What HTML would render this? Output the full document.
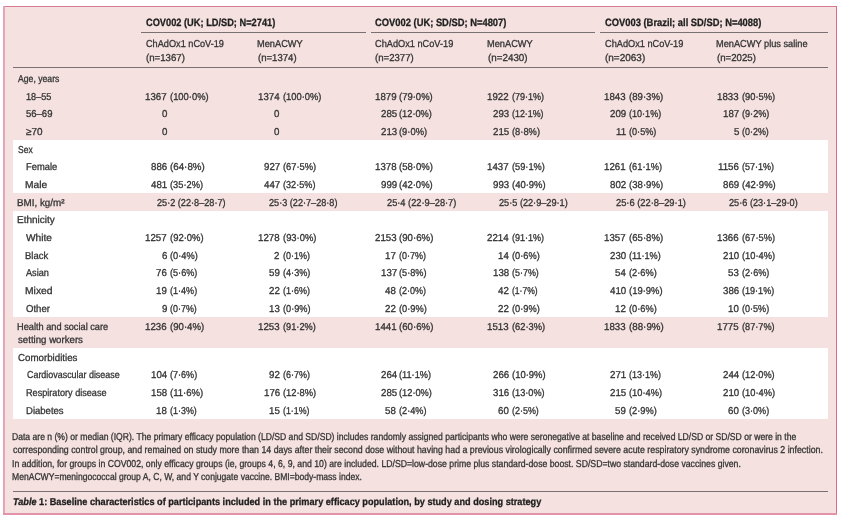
<!DOCTYPE html>
<html><head><meta charset="utf-8"><style>
html,body{margin:0;padding:0;background:#fff;}
body{width:847px;height:526px;position:relative;overflow:hidden;font-family:"Liberation Sans",sans-serif;}
.box{position:absolute;left:4px;top:6px;width:832px;height:507px;background:#f5e2e0;}
.bt{position:absolute;left:4px;top:6px;width:833px;height:1px;background:#d97a94;}
.bl{position:absolute;left:3px;top:6px;width:2px;height:508px;background:#e3a5b8;}
.br{position:absolute;left:836px;top:6px;width:1px;height:508px;background:#d56f8c;}
.bb{position:absolute;left:3px;top:513px;width:834px;height:1.5px;background:#e293aa;}
.band{position:absolute;left:13px;width:815px;background:#fff;}
.rule{position:absolute;height:1px;background:#787073;}
.txt{position:absolute;left:0;top:0;width:847px;height:526px;will-change:transform;}
.t{position:absolute;white-space:nowrap;font-family:"Liberation Sans",sans-serif;font-size:10px;line-height:12px;color:#333;transform-origin:0 0;-webkit-text-stroke:0.3px #333;text-rendering:geometricPrecision;}
.b{font-weight:bold;color:#1e1e1e;-webkit-text-stroke:0.3px #1e1e1e;}
.g{font-size:10.6px;}
.n{display:inline-block;text-align:right;}

</style></head><body>
<div class="box"></div><div class="band" style="top:140px;height:52.8px"></div><div class="band" style="top:211px;height:106.0px"></div><div class="band" style="top:348px;height:71.0px"></div><div class="bt"></div><div class="bl"></div><div class="br"></div><div class="bb"></div>
<div class="rule" style="left:141px;width:225px;top:32px"></div><div class="rule" style="left:371px;width:224px;top:32px"></div><div class="rule" style="left:600px;width:228px;top:32px"></div><div class="rule" style="left:13px;width:815px;top:67px"></div><div class="rule" style="left:13px;width:815px;top:491px"></div>
<div class="txt">
<div class="t b g" style="left:145.70px;top:17.40px;transform:scaleX(0.8730)">COV002 (UK; LD/SD; N=2741)</div>
<div class="t b g" style="left:375.00px;top:17.40px;transform:scaleX(0.8839)">COV002 (UK; SD/SD; N=4807)</div>
<div class="t b g" style="left:604.70px;top:17.40px;transform:scaleX(0.8836)">COV003 (Brazil; all SD/SD; N=4088)</div>
<div class="t h" style="left:145.70px;top:39.00px;transform:scaleX(0.9165)">ChAdOx1 nCoV-19</div>
<div class="t h" style="left:145.70px;top:52.50px;transform:scaleX(0.9650)">(n=1367)</div>
<div class="t h" style="left:257.07px;top:39.00px;transform:scaleX(0.9250)">MenACWY</div>
<div class="t h" style="left:258.00px;top:52.50px;transform:scaleX(0.9575)">(n=1374)</div>
<div class="t h" style="left:375.00px;top:39.00px;transform:scaleX(0.9200)">ChAdOx1 nCoV-19</div>
<div class="t h" style="left:375.00px;top:52.50px;transform:scaleX(0.9600)">(n=2377)</div>
<div class="t h" style="left:486.77px;top:39.00px;transform:scaleX(0.9250)">MenACWY</div>
<div class="t h" style="left:487.70px;top:52.50px;transform:scaleX(0.9825)">(n=2430)</div>
<div class="t h" style="left:604.70px;top:39.00px;transform:scaleX(0.9200)">ChAdOx1 nCoV-19</div>
<div class="t h" style="left:604.70px;top:52.50px;transform:scaleX(0.9975)">(n=2063)</div>
<div class="t h" style="left:716.48px;top:39.00px;transform:scaleX(0.9224)">MenACWY plus saline</div>
<div class="t h" style="left:717.40px;top:52.50px;transform:scaleX(0.9650)">(n=2025)</div>
<div class="t l" style="left:17.80px;top:74.00px;transform:scaleX(0.8646)">Age, years</div>
<div class="t l" style="left:26.40px;top:91.67px;transform:scaleX(0.9143)">18–55</div>
<div class="t d" style="left:145.46px;top:91.67px;transform:scaleX(0.9700)">1367</div>
<div class="t d" style="left:170.10px;top:91.67px;transform:scaleX(0.9390)">(100·0%)</div>
<div class="t d" style="left:257.86px;top:91.67px;transform:scaleX(0.9700)">1374</div>
<div class="t d" style="left:282.50px;top:91.67px;transform:scaleX(0.9341)">(100·0%)</div>
<div class="t d" style="left:374.76px;top:91.67px;transform:scaleX(0.9700)">1879</div>
<div class="t d" style="left:399.40px;top:91.67px;transform:scaleX(0.9486)">(79·0%)</div>
<div class="t d" style="left:487.46px;top:91.67px;transform:scaleX(0.9700)">1922</div>
<div class="t d" style="left:512.10px;top:91.67px;transform:scaleX(0.9029)">(79·1%)</div>
<div class="t d" style="left:604.46px;top:91.67px;transform:scaleX(0.9700)">1843</div>
<div class="t d" style="left:629.10px;top:91.67px;transform:scaleX(0.9600)">(89·3%)</div>
<div class="t d" style="left:717.06px;top:91.67px;transform:scaleX(0.9700)">1833</div>
<div class="t d" style="left:741.70px;top:91.67px;transform:scaleX(0.9343)">(90·5%)</div>
<div class="t l" style="left:26.40px;top:109.34px;transform:scaleX(0.9500)">56–69</div>
<div class="t d" style="left:161.95px;top:109.34px;transform:scaleX(0.9700)">0</div>
<div class="t d" style="left:274.35px;top:109.34px;transform:scaleX(0.9700)">0</div>
<div class="t d" style="left:380.58px;top:109.34px;transform:scaleX(0.9700)">285</div>
<div class="t d" style="left:399.40px;top:109.34px;transform:scaleX(0.9257)">(12·0%)</div>
<div class="t d" style="left:493.28px;top:109.34px;transform:scaleX(0.9700)">293</div>
<div class="t d" style="left:512.10px;top:109.34px;transform:scaleX(0.8857)">(12·1%)</div>
<div class="t d" style="left:610.28px;top:109.34px;transform:scaleX(0.9700)">209</div>
<div class="t d" style="left:629.10px;top:109.34px;transform:scaleX(0.9057)">(10·1%)</div>
<div class="t d" style="left:722.88px;top:109.34px;transform:scaleX(0.9700)">187</div>
<div class="t d" style="left:741.70px;top:109.34px;transform:scaleX(0.9133)">(9·2%)</div>
<div class="t l" style="left:26.40px;top:127.01px;transform:scaleX(0.9937)">≥70</div>
<div class="t d" style="left:161.95px;top:127.01px;transform:scaleX(0.9700)">0</div>
<div class="t d" style="left:274.35px;top:127.01px;transform:scaleX(0.9700)">0</div>
<div class="t d" style="left:380.58px;top:127.01px;transform:scaleX(0.9700)">213</div>
<div class="t d" style="left:399.40px;top:127.01px;transform:scaleX(0.9367)">(9·0%)</div>
<div class="t d" style="left:493.28px;top:127.01px;transform:scaleX(0.9700)">215</div>
<div class="t d" style="left:512.10px;top:127.01px;transform:scaleX(0.9333)">(8·8%)</div>
<div class="t d" style="left:616.10px;top:127.01px;transform:scaleX(0.9700)">11</div>
<div class="t d" style="left:629.10px;top:127.01px;transform:scaleX(0.9133)">(0·5%)</div>
<div class="t d" style="left:733.55px;top:127.01px;transform:scaleX(0.9700)">5</div>
<div class="t d" style="left:741.70px;top:127.01px;transform:scaleX(0.8933)">(0·2%)</div>
<div class="t l" style="left:17.60px;top:144.68px;transform:scaleX(0.8529)">Sex</div>
<div class="t l" style="left:25.57px;top:162.35px;transform:scaleX(0.9344)">Female</div>
<div class="t d" style="left:151.28px;top:162.35px;transform:scaleX(0.9700)">886</div>
<div class="t d" style="left:170.10px;top:162.35px;transform:scaleX(0.9771)">(64·8%)</div>
<div class="t d" style="left:263.68px;top:162.35px;transform:scaleX(0.9700)">927</div>
<div class="t d" style="left:282.50px;top:162.35px;transform:scaleX(0.9343)">(67·5%)</div>
<div class="t d" style="left:374.76px;top:162.35px;transform:scaleX(0.9700)">1378</div>
<div class="t d" style="left:399.40px;top:162.35px;transform:scaleX(0.9543)">(58·0%)</div>
<div class="t d" style="left:487.46px;top:162.35px;transform:scaleX(0.9700)">1437</div>
<div class="t d" style="left:512.10px;top:162.35px;transform:scaleX(0.9229)">(59·1%)</div>
<div class="t d" style="left:604.46px;top:162.35px;transform:scaleX(0.9700)">1261</div>
<div class="t d" style="left:629.10px;top:162.35px;transform:scaleX(0.9286)">(61·1%)</div>
<div class="t d" style="left:718.03px;top:162.35px;transform:scaleX(0.9700)">1156</div>
<div class="t d" style="left:741.70px;top:162.35px;transform:scaleX(0.9000)">(57·1%)</div>
<div class="t l" style="left:25.48px;top:180.02px;transform:scaleX(1.0250)">Male</div>
<div class="t d" style="left:151.28px;top:180.02px;transform:scaleX(0.9700)">481</div>
<div class="t d" style="left:170.10px;top:180.02px;transform:scaleX(0.9286)">(35·2%)</div>
<div class="t d" style="left:263.68px;top:180.02px;transform:scaleX(0.9700)">447</div>
<div class="t d" style="left:282.50px;top:180.02px;transform:scaleX(0.9114)">(32·5%)</div>
<div class="t d" style="left:380.58px;top:180.02px;transform:scaleX(0.9700)">999</div>
<div class="t d" style="left:399.40px;top:180.02px;transform:scaleX(0.9486)">(42·0%)</div>
<div class="t d" style="left:493.28px;top:180.02px;transform:scaleX(0.9700)">993</div>
<div class="t d" style="left:512.10px;top:180.02px;transform:scaleX(0.9457)">(40·9%)</div>
<div class="t d" style="left:610.28px;top:180.02px;transform:scaleX(0.9700)">802</div>
<div class="t d" style="left:629.10px;top:180.02px;transform:scaleX(0.9600)">(38·9%)</div>
<div class="t d" style="left:722.88px;top:180.02px;transform:scaleX(0.9700)">869</div>
<div class="t d" style="left:741.70px;top:180.02px;transform:scaleX(0.9486)">(42·9%)</div>
<div class="t l" style="left:16.62px;top:197.69px;transform:scaleX(0.9830)">BMI, kg/m²</div>
<div class="t d" style="left:157.00px;top:197.69px;transform:scaleX(0.9133)">25·2 (22·8–28·7)</div>
<div class="t d" style="left:269.40px;top:197.69px;transform:scaleX(0.9120)">25·3 (22·7–28·8)</div>
<div class="t d" style="left:386.50px;top:197.69px;transform:scaleX(0.9240)">25·4 (22·9–28·7)</div>
<div class="t d" style="left:499.20px;top:197.69px;transform:scaleX(0.9160)">25·5 (22·9–29·1)</div>
<div class="t d" style="left:615.90px;top:197.69px;transform:scaleX(0.9320)">25·6 (22·8–29·1)</div>
<div class="t d" style="left:729.20px;top:197.69px;transform:scaleX(0.9160)">25·6 (23·1–29·0)</div>
<div class="t l" style="left:16.85px;top:215.36px;transform:scaleX(1.0014)">Ethnicity</div>
<div class="t l" style="left:26.10px;top:233.03px;transform:scaleX(1.0160)">White</div>
<div class="t d" style="left:145.46px;top:233.03px;transform:scaleX(0.9700)">1257</div>
<div class="t d" style="left:170.10px;top:233.03px;transform:scaleX(0.9457)">(92·0%)</div>
<div class="t d" style="left:257.86px;top:233.03px;transform:scaleX(0.9700)">1278</div>
<div class="t d" style="left:282.50px;top:233.03px;transform:scaleX(0.9400)">(93·0%)</div>
<div class="t d" style="left:374.76px;top:233.03px;transform:scaleX(0.9700)">2153</div>
<div class="t d" style="left:399.40px;top:233.03px;transform:scaleX(0.9657)">(90·6%)</div>
<div class="t d" style="left:487.46px;top:233.03px;transform:scaleX(0.9700)">2214</div>
<div class="t d" style="left:512.10px;top:233.03px;transform:scaleX(0.9029)">(91·1%)</div>
<div class="t d" style="left:604.46px;top:233.03px;transform:scaleX(0.9700)">1357</div>
<div class="t d" style="left:629.10px;top:233.03px;transform:scaleX(0.9600)">(65·8%)</div>
<div class="t d" style="left:717.06px;top:233.03px;transform:scaleX(0.9700)">1366</div>
<div class="t d" style="left:741.70px;top:233.03px;transform:scaleX(0.9286)">(67·5%)</div>
<div class="t l" style="left:25.45px;top:250.70px;transform:scaleX(0.9478)">Black</div>
<div class="t d" style="left:161.95px;top:250.70px;transform:scaleX(0.9700)">6</div>
<div class="t d" style="left:170.10px;top:250.70px;transform:scaleX(0.9267)">(0·4%)</div>
<div class="t d" style="left:274.35px;top:250.70px;transform:scaleX(0.9700)">2</div>
<div class="t d" style="left:282.50px;top:250.70px;transform:scaleX(0.9000)">(0·1%)</div>
<div class="t d" style="left:385.43px;top:250.70px;transform:scaleX(0.9700)">17</div>
<div class="t d" style="left:399.40px;top:250.70px;transform:scaleX(0.9000)">(0·7%)</div>
<div class="t d" style="left:498.13px;top:250.70px;transform:scaleX(0.9700)">14</div>
<div class="t d" style="left:512.10px;top:250.70px;transform:scaleX(0.9267)">(0·6%)</div>
<div class="t d" style="left:610.28px;top:250.70px;transform:scaleX(0.9700)">230</div>
<div class="t d" style="left:629.10px;top:250.70px;transform:scaleX(0.9118)">(11·1%)</div>
<div class="t d" style="left:722.88px;top:250.70px;transform:scaleX(0.9700)">210</div>
<div class="t d" style="left:741.70px;top:250.70px;transform:scaleX(0.9286)">(10·4%)</div>
<div class="t l" style="left:26.40px;top:268.37px;transform:scaleX(0.9160)">Asian</div>
<div class="t d" style="left:156.13px;top:268.37px;transform:scaleX(0.9700)">76</div>
<div class="t d" style="left:170.10px;top:268.37px;transform:scaleX(0.9133)">(5·6%)</div>
<div class="t d" style="left:268.53px;top:268.37px;transform:scaleX(0.9700)">59</div>
<div class="t d" style="left:282.50px;top:268.37px;transform:scaleX(0.9133)">(4·3%)</div>
<div class="t d" style="left:380.58px;top:268.37px;transform:scaleX(0.9700)">137</div>
<div class="t d" style="left:399.40px;top:268.37px;transform:scaleX(0.9167)">(5·8%)</div>
<div class="t d" style="left:493.28px;top:268.37px;transform:scaleX(0.9700)">138</div>
<div class="t d" style="left:512.10px;top:268.37px;transform:scaleX(0.8933)">(5·7%)</div>
<div class="t d" style="left:615.13px;top:268.37px;transform:scaleX(0.9700)">54</div>
<div class="t d" style="left:629.10px;top:268.37px;transform:scaleX(0.9267)">(2·6%)</div>
<div class="t d" style="left:727.73px;top:268.37px;transform:scaleX(0.9700)">53</div>
<div class="t d" style="left:741.70px;top:268.37px;transform:scaleX(0.9133)">(2·6%)</div>
<div class="t l" style="left:25.37px;top:286.04px;transform:scaleX(1.0320)">Mixed</div>
<div class="t d" style="left:156.13px;top:286.04px;transform:scaleX(0.9700)">19</div>
<div class="t d" style="left:170.10px;top:286.04px;transform:scaleX(0.9067)">(1·4%)</div>
<div class="t d" style="left:268.53px;top:286.04px;transform:scaleX(0.9700)">22</div>
<div class="t d" style="left:282.50px;top:286.04px;transform:scaleX(0.9000)">(1·6%)</div>
<div class="t d" style="left:385.43px;top:286.04px;transform:scaleX(0.9700)">48</div>
<div class="t d" style="left:399.40px;top:286.04px;transform:scaleX(0.9000)">(2·0%)</div>
<div class="t d" style="left:498.13px;top:286.04px;transform:scaleX(0.9700)">42</div>
<div class="t d" style="left:512.10px;top:286.04px;transform:scaleX(0.8567)">(1·7%)</div>
<div class="t d" style="left:610.28px;top:286.04px;transform:scaleX(0.9700)">410</div>
<div class="t d" style="left:629.10px;top:286.04px;transform:scaleX(0.9457)">(19·9%)</div>
<div class="t d" style="left:722.88px;top:286.04px;transform:scaleX(0.9700)">386</div>
<div class="t d" style="left:741.70px;top:286.04px;transform:scaleX(0.9057)">(19·1%)</div>
<div class="t l" style="left:26.40px;top:303.71px;transform:scaleX(0.9560)">Other</div>
<div class="t d" style="left:161.95px;top:303.71px;transform:scaleX(0.9700)">9</div>
<div class="t d" style="left:170.10px;top:303.71px;transform:scaleX(0.8933)">(0·7%)</div>
<div class="t d" style="left:268.53px;top:303.71px;transform:scaleX(0.9700)">13</div>
<div class="t d" style="left:282.50px;top:303.71px;transform:scaleX(0.9200)">(0·9%)</div>
<div class="t d" style="left:385.43px;top:303.71px;transform:scaleX(0.9700)">22</div>
<div class="t d" style="left:399.40px;top:303.71px;transform:scaleX(0.9300)">(0·9%)</div>
<div class="t d" style="left:498.13px;top:303.71px;transform:scaleX(0.9700)">22</div>
<div class="t d" style="left:512.10px;top:303.71px;transform:scaleX(0.9267)">(0·9%)</div>
<div class="t d" style="left:615.13px;top:303.71px;transform:scaleX(0.9700)">12</div>
<div class="t d" style="left:629.10px;top:303.71px;transform:scaleX(0.9267)">(0·6%)</div>
<div class="t d" style="left:727.73px;top:303.71px;transform:scaleX(0.9700)">10</div>
<div class="t d" style="left:741.70px;top:303.71px;transform:scaleX(0.9067)">(0·5%)</div>
<div class="t l" style="left:16.68px;top:322.10px;transform:scaleX(0.9214)">Health and social care</div>
<div class="t d" style="left:145.46px;top:322.10px;transform:scaleX(0.9700)">1236</div>
<div class="t d" style="left:170.10px;top:322.10px;transform:scaleX(0.9600)">(90·4%)</div>
<div class="t d" style="left:257.86px;top:322.10px;transform:scaleX(0.9700)">1253</div>
<div class="t d" style="left:282.50px;top:322.10px;transform:scaleX(0.9229)">(91·2%)</div>
<div class="t d" style="left:374.76px;top:322.10px;transform:scaleX(0.9700)">1441</div>
<div class="t d" style="left:399.40px;top:322.10px;transform:scaleX(0.9657)">(60·6%)</div>
<div class="t d" style="left:487.46px;top:322.10px;transform:scaleX(0.9700)">1513</div>
<div class="t d" style="left:512.10px;top:322.10px;transform:scaleX(0.9343)">(62·3%)</div>
<div class="t d" style="left:604.46px;top:322.10px;transform:scaleX(0.9700)">1833</div>
<div class="t d" style="left:629.10px;top:322.10px;transform:scaleX(0.9771)">(88·9%)</div>
<div class="t d" style="left:717.06px;top:322.10px;transform:scaleX(0.9700)">1775</div>
<div class="t d" style="left:741.70px;top:322.10px;transform:scaleX(0.9171)">(87·7%)</div>
<div class="t l" style="left:17.60px;top:334.60px;transform:scaleX(0.9657)">setting workers</div>
<div class="t l" style="left:17.60px;top:352.50px;transform:scaleX(0.9721)">Comorbidities</div>
<div class="t l" style="left:26.70px;top:370.17px;transform:scaleX(0.8913)">Cardiovascular disease</div>
<div class="t d" style="left:151.28px;top:370.17px;transform:scaleX(0.9700)">104</div>
<div class="t d" style="left:170.10px;top:370.17px;transform:scaleX(0.9067)">(7·6%)</div>
<div class="t d" style="left:268.53px;top:370.17px;transform:scaleX(0.9700)">92</div>
<div class="t d" style="left:282.50px;top:370.17px;transform:scaleX(0.9000)">(6·7%)</div>
<div class="t d" style="left:380.58px;top:370.17px;transform:scaleX(0.9700)">264</div>
<div class="t d" style="left:399.40px;top:370.17px;transform:scaleX(0.9206)">(11·1%)</div>
<div class="t d" style="left:493.28px;top:370.17px;transform:scaleX(0.9700)">266</div>
<div class="t d" style="left:512.10px;top:370.17px;transform:scaleX(0.9457)">(10·9%)</div>
<div class="t d" style="left:610.28px;top:370.17px;transform:scaleX(0.9700)">271</div>
<div class="t d" style="left:629.10px;top:370.17px;transform:scaleX(0.8971)">(13·1%)</div>
<div class="t d" style="left:722.88px;top:370.17px;transform:scaleX(0.9700)">244</div>
<div class="t d" style="left:741.70px;top:370.17px;transform:scaleX(0.9171)">(12·0%)</div>
<div class="t l" style="left:25.79px;top:387.84px;transform:scaleX(0.9115)">Respiratory disease</div>
<div class="t d" style="left:151.28px;top:387.84px;transform:scaleX(0.9700)">158</div>
<div class="t d" style="left:170.10px;top:387.84px;transform:scaleX(0.9559)">(11·6%)</div>
<div class="t d" style="left:263.68px;top:387.84px;transform:scaleX(0.9700)">176</div>
<div class="t d" style="left:282.50px;top:387.84px;transform:scaleX(0.9343)">(12·8%)</div>
<div class="t d" style="left:380.58px;top:387.84px;transform:scaleX(0.9700)">285</div>
<div class="t d" style="left:399.40px;top:387.84px;transform:scaleX(0.9257)">(12·0%)</div>
<div class="t d" style="left:493.28px;top:387.84px;transform:scaleX(0.9700)">316</div>
<div class="t d" style="left:512.10px;top:387.84px;transform:scaleX(0.9171)">(13·0%)</div>
<div class="t d" style="left:610.28px;top:387.84px;transform:scaleX(0.9700)">215</div>
<div class="t d" style="left:629.10px;top:387.84px;transform:scaleX(0.9286)">(10·4%)</div>
<div class="t d" style="left:722.88px;top:387.84px;transform:scaleX(0.9700)">210</div>
<div class="t d" style="left:741.70px;top:387.84px;transform:scaleX(0.9286)">(10·4%)</div>
<div class="t l" style="left:25.75px;top:405.51px;transform:scaleX(0.9526)">Diabetes</div>
<div class="t d" style="left:156.13px;top:405.51px;transform:scaleX(0.9700)">18</div>
<div class="t d" style="left:170.10px;top:405.51px;transform:scaleX(0.8933)">(1·3%)</div>
<div class="t d" style="left:268.53px;top:405.51px;transform:scaleX(0.9700)">15</div>
<div class="t d" style="left:282.50px;top:405.51px;transform:scaleX(0.8800)">(1·1%)</div>
<div class="t d" style="left:385.43px;top:405.51px;transform:scaleX(0.9700)">58</div>
<div class="t d" style="left:399.40px;top:405.51px;transform:scaleX(0.9167)">(2·4%)</div>
<div class="t d" style="left:498.13px;top:405.51px;transform:scaleX(0.9700)">60</div>
<div class="t d" style="left:512.10px;top:405.51px;transform:scaleX(0.8933)">(2·5%)</div>
<div class="t d" style="left:615.13px;top:405.51px;transform:scaleX(0.9700)">59</div>
<div class="t d" style="left:629.10px;top:405.51px;transform:scaleX(0.9267)">(2·9%)</div>
<div class="t d" style="left:727.73px;top:405.51px;transform:scaleX(0.9700)">60</div>
<div class="t d" style="left:741.70px;top:405.51px;transform:scaleX(0.9067)">(3·0%)</div>
<div class="t f" style="left:12.44px;top:432.10px;transform:scaleX(0.8591)">Data are n (%) or median (IQR). The primary efficacy population (LD/SD and SD/SD) includes randomly assigned participants who were seronegative at baseline and received LD/SD or SD/SD or were in the</div>
<div class="t f" style="left:13.30px;top:445.20px;transform:scaleX(0.8798)">corresponding control group, and remained on study more than 14 days after their second dose without having had a previous virologically confirmed severe acute respiratory syndrome coronavirus 2 infection.</div>
<div class="t f" style="left:12.43px;top:458.60px;transform:scaleX(0.8691)">In addition, for groups in COV002, only efficacy groups (ie, groups 4, 6, 9, and 10) are included. LD/SD=low-dose prime plus standard-dose boost. SD/SD=two standard-dose vaccines given.</div>
<div class="t f" style="left:12.44px;top:471.70px;transform:scaleX(0.8572)">MenACWY=meningococcal group A, C, W, and Y conjugate vaccine. BMI=body-mass index.</div>
<div class="t b" style="left:13.09px;top:497.00px;transform:scaleX(0.9146)"><i>Table</i> 1: Baseline characteristics of participants included in the primary efficacy population, by study and dosing strategy</div>
</div>
</body></html>
